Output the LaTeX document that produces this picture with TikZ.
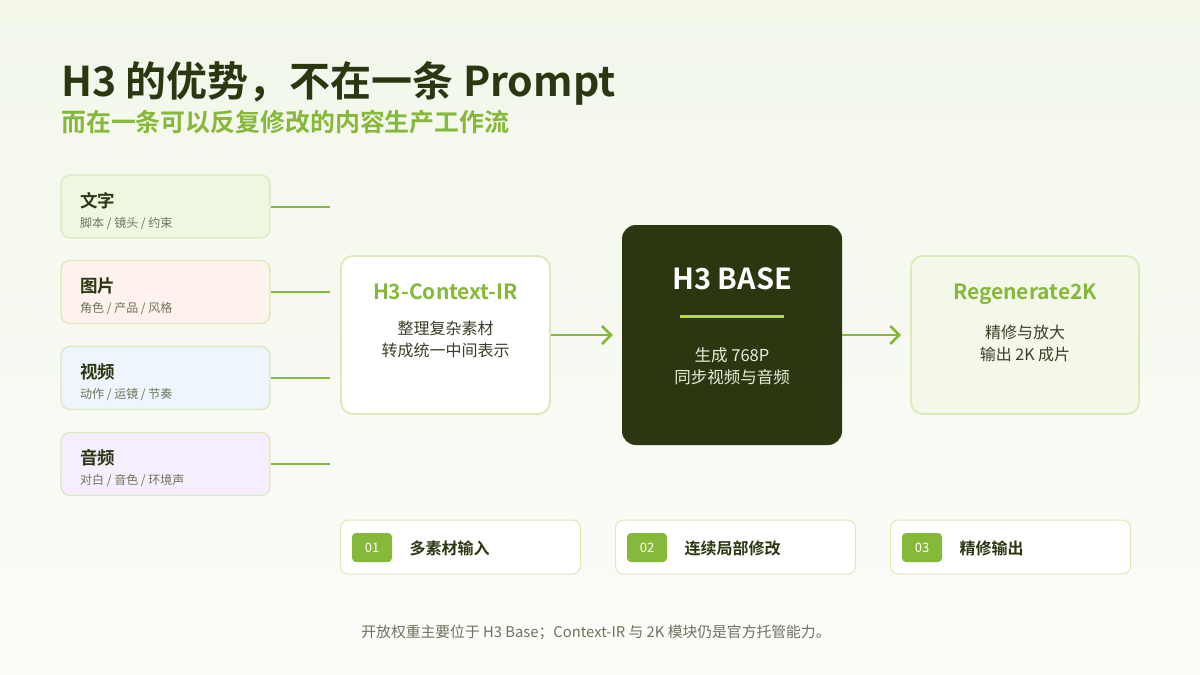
\documentclass[tikz,border=0pt]{standalone}
\usepackage{fontspec}
\setmainfont{Noto Sans CJK SC}[BoldFont={Noto Sans CJK SC Bold}]
\usetikzlibrary{arrows.meta, positioning, calc}

\definecolor{bgtop}{HTML}{F2F7EA}
\definecolor{bgbot}{HTML}{FCFCF9}
\definecolor{olive}{HTML}{2C3712}
\definecolor{leaf}{HTML}{86B83A}
\definecolor{lime}{HTML}{B4DC3C}
\definecolor{edge}{HTML}{DCE9B8}
\definecolor{mute}{HTML}{6E735C}
\definecolor{ink}{HTML}{3A4028}
\definecolor{fillA}{HTML}{EFF7E1}
\definecolor{fillB}{HTML}{FDF3EC}
\definecolor{fillC}{HTML}{EDF5FD}
\definecolor{fillD}{HTML}{F6EEFC}
\definecolor{regfill}{HTML}{F4F8EA}
\definecolor{basetext}{HTML}{E6EDD8}

\tikzset{
  srcbox/.style={draw=edge, line width=1.2pt, rounded corners=9pt, minimum width=209pt, minimum height=63pt},
  srchead/.style={anchor=west, inner sep=0pt, font=\fontsize{17.5}{20}\selectfont\bfseries, text=olive},
  srcsub/.style={anchor=west, inner sep=0pt, font=\fontsize{12}{14}\selectfont, text=mute},
  link/.style={draw=leaf, line width=2pt},
  flow/.style={draw=leaf, line width=2.6pt, -{Straight Barb[length=9pt, width=18pt]}},
  stagebox/.style={draw=edge, line width=1.8pt, rounded corners=12pt, minimum width=209pt, minimum height=158pt},
  stagehead/.style={inner sep=0pt, text depth=0pt, font=\fontsize{21}{24}\selectfont\bfseries, text=leaf},
  stagebody/.style={inner sep=0pt, align=center, font=\fontsize{16}{22}\selectfont, text=ink},
  stepbox/.style={draw=edge, line width=1pt, fill=white, rounded corners=8pt, minimum width=240pt, minimum height=54pt},
  badge/.style={fill=leaf, rounded corners=4pt, minimum width=40pt, minimum height=29pt, inner sep=0pt, text=white, font=\fontsize{13}{15}\selectfont},
  steptext/.style={anchor=west, inner sep=0pt, font=\fontsize{16}{18}\selectfont\bfseries, text=olive}
}

\begin{document}
\begin{tikzpicture}[x=1pt, y=-1pt]
\shade[top color=bgtop, bottom color=bgbot] (0,0) rectangle (1200,675);
\useasboundingbox (0,0) rectangle (1200,675);

% heading
\node[anchor=base west, inner sep=0pt, font=\fontsize{41}{46}\selectfont\bfseries, text=olive] (title) at (61,96) {H3 的优势，不在一条 Prompt};
\node[anchor=base west, inner sep=0pt, font=\fontsize{24.9}{28}\selectfont\bfseries, text=leaf] (subtitle) at (61,131) {而在一条可以反复修改的内容生产工作流};

% inputs
\foreach \nm/\y/\fc/\head/\sub in {txt/206.5/fillA/文字/{脚本 / 镜头 / 约束},
    img/292/fillB/图片/{角色 / 产品 / 风格},
    vid/378/fillC/视频/{动作 / 运镜 / 节奏},
    aud/464/fillD/音频/{对白 / 音色 / 环境声}} {
  \node[srcbox, fill=\fc] (\nm) at (165.5,\y) {};
  \node[srchead] (\nm-head) at (80,\y-6) {\head};
  \node[srcsub] (\nm-sub) at (80,\y+16.5) {\sub};
  \coordinate (\nm-end) at (330,\y);
  \draw[link] (\nm.east) -- (\nm-end);
}

% context-ir
\node[stagebox, fill=white] (ctx) at (445.5,335) {};
\node[stagehead] (ctx-head) at (445.5,291.5) {H3-Context-IR};
\node[stagebody] (ctx-body) at (445.5,339.5) {整理复杂素材\\转成统一中间表示};

% base
\node[fill=olive, rounded corners=14pt, minimum width=220pt, minimum height=220pt] (base) at (732,335) {};
\node[inner sep=0pt, text depth=0pt, font=\fontsize{29}{32}\selectfont\bfseries, text=white] (base-head) at (732,279) {H3 BASE};
\coordinate (rule-l) at (680,316);
\coordinate (rule-r) at (784,316);
\draw[draw=lime, line width=3pt] (rule-l) -- (rule-r);
\node[stagebody, text=basetext, font=\fontsize{16.5}{22}\selectfont] (base-body) at (732,366) {生成 768P\\同步视频与音频};

% regenerate
\node[stagebox, fill=regfill, minimum width=228pt] (reg) at (1025,335) {};
\node[stagehead] (reg-head) at (1025,291.5) {Regenerate2K};
\node[stagebody] (reg-body) at (1025,343) {精修与放大\\输出 2K 成片};

\draw[flow] (ctx.east) -- ($(base.west)+(-9,0)$);
\draw[flow] (base.east) -- ($(reg.west)+(-9,0)$);

% steps
\foreach \nm/\x/\num/\lab in {s1/460.5/01/多素材输入, s2/735.5/02/连续局部修改, s3/1010.5/03/精修输出} {
  \node[stepbox] (\nm) at (\x,547) {};
  \node[badge] (\nm-num) at (\x-88.5,547.5) {\num};
  \node[steptext] (\nm-lab) at (\x-51,548) {\lab};
}

% note
\node[inner sep=0pt, font=\fontsize{14.8}{17}\selectfont, text=mute] (note) at (596,632) {开放权重主要位于 H3 Base；Context-IR 与 2K 模块仍是官方托管能力。};
\end{tikzpicture}
\end{document}
